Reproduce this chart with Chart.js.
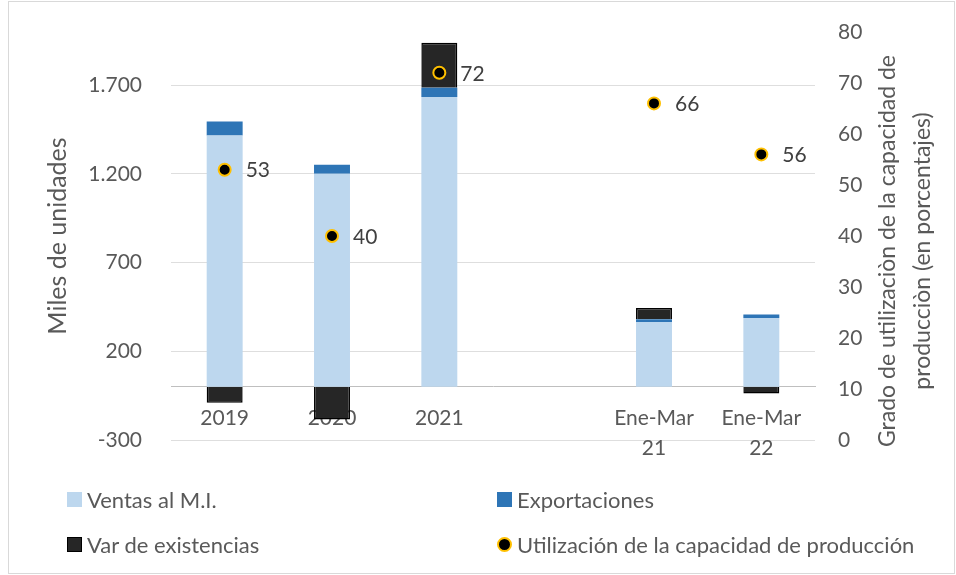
<!DOCTYPE html>
<html>
<head>
<meta charset="utf-8">
<script src="https://cdn.jsdelivr.net/npm/chart.js@4.4.1/dist/chart.umd.min.js"></script>
<style>
  html, body { margin: 0; padding: 0; background: #ffffff; }
  #wrap { position: relative; width: 956px; height: 575px; overflow: hidden; }
  #c { position: absolute; left: 0; top: 0; }
  .lg { position: absolute; font-family: Lato, "Open Sans", sans-serif; font-size: 22px; color: #595959; white-space: nowrap; line-height: 24px; }
  .lg .sw { position: absolute; left: 0; top: 4px; width: 15px; height: 15px; box-sizing: border-box; }
  .lg .tx { position: absolute; left: 20px; top: 0; }
</style>
</head>
<body>
<div id="wrap">
  <canvas id="c" width="956" height="575"></canvas>
  <div id="legend"></div>
</div>
<script>
// ---- data ----
const categories = ['2019', '2020', '2021', '', ['Ene-Mar', '21'], ['Ene-Mar', '22']];
const ventasMI = [1417, 1201, 1633, null, 365, 388];
const exportaciones = [79, 51, 53, null, 15, 19];
const varExistencias = [-90, -185, 254, null, 64, -38];
const utilizacion = [53, 40, 72, null, 66, 56];
const leftTicks = [-300, 200, 700, 1200, 1700];
const rightTicks = [0, 10, 20, 30, 40, 50, 60, 70, 80];
const seriesNames = ['Ventas al M.I.', 'Exportaciones', 'Var de existencias', 'Utilización de la capacidad de producción'];
const leftTitle = 'Miles de unidades';
const rightTitle = ['Grado de utilizaciòn de la capacidad de', 'producciòn (en porcentajes)'];

const FONT = 'Lato, "Open Sans", sans-serif';
const TXT = '#595959';

function fmtThousands(v) {
  const s = String(Math.abs(v)).replace(/\B(?=(\d{3})+(?!\d))/g, '.');
  return (v < 0 ? '-' : '') + s;
}

const frame = {
  id: 'frame',
  beforeDraw(chart) {
    const ctx = chart.ctx;
    ctx.save();
    ctx.fillStyle = '#ffffff';
    ctx.fillRect(0, 0, chart.width, chart.height);
    ctx.strokeStyle = '#d9d9d9';
    ctx.lineWidth = 1;
    ctx.strokeRect(8.5, 1.5, 946, 572);
    ctx.restore();
  }
};

const pointLabels = {
  id: 'pointLabels',
  afterDatasetsDraw(chart) {
    const ctx = chart.ctx;
    const meta = chart.getDatasetMeta(0);
    ctx.save();
    ctx.font = '21px ' + FONT;
    ctx.fillStyle = '#404040';
    ctx.textAlign = 'left';
    ctx.textBaseline = 'middle';
    meta.data.forEach((pt, i) => {
      const v = utilizacion[i];
      if (v === null || v === undefined) return;
      ctx.fillText(String(v), pt.x + 21, pt.y + 1);
    });
    ctx.restore();
  }
};

const axisTitles = {
  id: 'axisTitles',
  afterDraw(chart) {
    const ctx = chart.ctx;
    const area = chart.chartArea;
    ctx.save();
    ctx.fillStyle = TXT;
    ctx.font = '25px ' + FONT;
    ctx.textAlign = 'center';
    ctx.textBaseline = 'middle';
    ctx.translate(58, (area.top + area.bottom) / 2);
    ctx.rotate(-Math.PI / 2);
    ctx.fillText(leftTitle, 0, 0);
    ctx.restore();

    ctx.save();
    ctx.fillStyle = TXT;
    ctx.font = '23px ' + FONT;
    ctx.textAlign = 'center';
    ctx.textBaseline = 'middle';
    ctx.translate(888, 251);
    ctx.rotate(-Math.PI / 2);
    rightTitle.forEach((line, i) => ctx.fillText(line, 0, i * 35));
    ctx.restore();
  }
};

function fixVertical(width) {
  return function (scale) {
    scale.width = width;
    scale.paddingTop = 0;
    scale.paddingBottom = 0;
  };
}

const chart = new Chart(document.getElementById('c'), {
  data: {
    labels: categories,
    datasets: [
      {
        type: 'line',
        label: seriesNames[3],
        data: utilizacion,
        yAxisID: 'y1',
        showLine: false,
        pointRadius: 6,
        pointHoverRadius: 6,
        pointBorderWidth: 2,
        pointBackgroundColor: '#000000',
        pointBorderColor: '#FFC000',
        order: -1
      },
      {
        type: 'bar',
        label: seriesNames[0],
        data: ventasMI,
        yAxisID: 'y',
        backgroundColor: '#BDD7EE',
        stack: 's'
      },
      {
        type: 'bar',
        label: seriesNames[1],
        data: exportaciones,
        yAxisID: 'y',
        backgroundColor: '#2E75B6',
        stack: 's'
      },
      {
        type: 'bar',
        label: seriesNames[2],
        data: varExistencias,
        yAxisID: 'y',
        backgroundColor: '#262626',
        borderColor: '#000000',
        borderWidth: 1.5,
        stack: 's'
      }
    ]
  },
  options: {
    responsive: false,
    devicePixelRatio: 1,
    animation: false,
    events: [],
    layout: { padding: { top: 32, bottom: 135, left: 0, right: 0 } },
    datasets: {
      bar: { categoryPercentage: 1, barPercentage: 0.335 }
    },
    plugins: {
      legend: { display: false },
      tooltip: { enabled: false },
      title: { display: false }
    },
    scales: {
      x: {
        type: 'category',
        position: { y: 0 },
        stacked: true,
        offset: true,
        z: 1,
        grid: { display: true, color: 'rgba(0,0,0,0)', drawTicks: false },
        border: { display: true, color: '#bfbfbf', width: 1 },
        ticks: {
          color: TXT,
          font: { family: FONT, size: 21, lineHeight: 1.43 },
          padding: 16,
          maxRotation: 0,
          autoSkip: false
        }
      },
      y: {
        type: 'linear',
        position: 'left',
        stacked: true,
        min: -300,
        max: 2000,
        afterBuildTicks(scale) { scale.ticks = leftTicks.map(v => ({ value: v })); },
        afterFit: fixVertical(171),
        grid: { color: '#dedede', lineWidth: 1, drawTicks: false },
        border: { display: false },
        ticks: {
          color: TXT,
          font: { family: FONT, size: 21 },
          padding: 29,
          callback: (v) => fmtThousands(v)
        }
      },
      y1: {
        type: 'linear',
        position: 'right',
        min: 0,
        max: 80,
        afterBuildTicks(scale) { scale.ticks = rightTicks.map(v => ({ value: v })); },
        afterFit: fixVertical(141),
        grid: { display: false, drawTicks: false },
        border: { display: false },
        ticks: {
          color: TXT,
          font: { family: FONT, size: 21 },
          padding: 23
        }
      }
    }
  },
  plugins: [frame, pointLabels, axisTitles]
});

// ---- HTML legend (built from the chart's datasets) ----
const legendPos = [
  { ds: 1, left: 67, top: 488 },
  { ds: 2, left: 497, top: 488 },
  { ds: 3, left: 67, top: 533 },
  { ds: 0, left: 497, top: 533 }
];
const lg = document.getElementById('legend');
legendPos.forEach(p => {
  const d = chart.data.datasets[p.ds];
  const item = document.createElement('div');
  item.className = 'lg';
  item.style.left = p.left + 'px';
  item.style.top = p.top + 'px';
  const sw = document.createElement('span');
  sw.className = 'sw';
  if (d.type === 'line') {
    sw.style.background = d.pointBackgroundColor;
    sw.style.border = '2px solid ' + d.pointBorderColor;
    sw.style.borderRadius = '50%';
  } else {
    sw.style.background = d.backgroundColor;
    if (d.borderColor) sw.style.border = '1.5px solid ' + d.borderColor;
  }
  const tx = document.createElement('span');
  tx.className = 'tx';
  tx.textContent = d.label;
  item.appendChild(sw);
  item.appendChild(tx);
  lg.appendChild(item);
});
</script>
</body>
</html>
